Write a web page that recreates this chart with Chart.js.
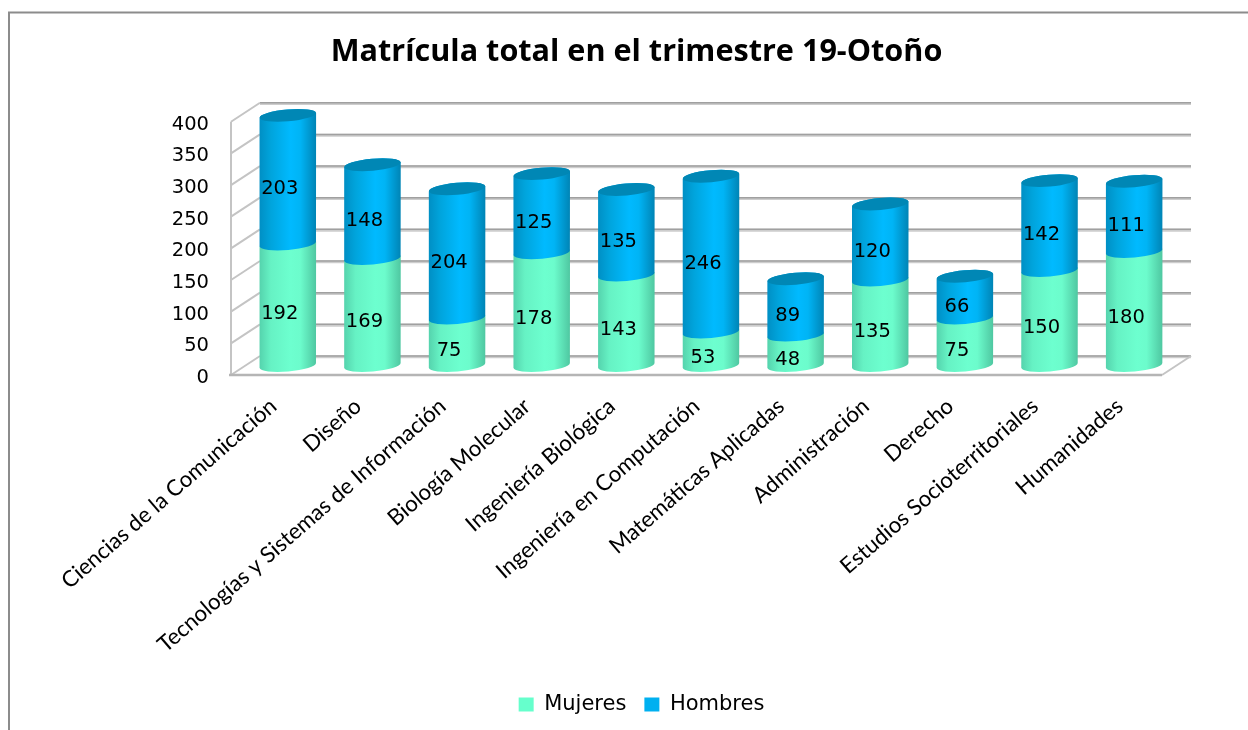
<!DOCTYPE html>
<html><head><meta charset="utf-8">
<script src="https://cdn.jsdelivr.net/npm/chart.js@4"></script>
<style>html,body{margin:0;padding:0;background:#fff;overflow:hidden}canvas{display:block}</style>
</head><body>
<canvas id="c" width="1248" height="730"></canvas>
<script>
const categories = ["Ciencias de la Comunicación","Diseño","Tecnologías y Sistemas de Información","Biología Molecular","Ingeniería Biológica","Ingeniería en Computación","Matemáticas Aplicadas","Administración","Derecho","Estudios Socioterritoriales","Humanidades"];
const mujeres = [192,169,75,178,143,53,48,135,75,150,180];
const hombres = [203,148,204,125,135,246,89,120,66,142,111];
const titleText = "Matrícula total en el trimestre 19-Otoño";
const yTicks = [0,50,100,150,200,250,300,350,400];

const DX = 29, DY = -19, GRID = '#a0a0a0';
const shades = [
  {top:'#5fe6bd', stops:['#55d3ad','#66f2c4','#6dffcf','#6cfccc','#4fc7a1']},
  {top:'#0087b5', stops:['#008fc4','#00a4dc','#00baff','#00b4f5','#0084b5']}
];
function grad(ctx,l,r,stops){
  const g=ctx.createLinearGradient(l,0,r,0);
  [0,.2,.55,.72,1].forEach((p,i)=>g.addColorStop(p,stops[i]));
  return g;
}
const TILT=-5*Math.PI/180, RY=6;
const cylinders = {
  id:'cylinders',
  afterLayout(chart){
    chart.legend.left+=5; chart.legend.right+=5;
  },
  beforeDraw(chart){
    const c=chart.ctx; c.save();
    c.strokeStyle='#8c8c8c'; c.lineWidth=2;
    c.beginPath(); c.moveTo(9,730); c.lineTo(9,12.5); c.lineTo(1248,12.5); c.stroke();
    c.restore();
  },
  beforeDatasetsDraw(chart){
    const c=chart.ctx, x=chart.scales.x, y=chart.scales.y, L=x.left, R=x.right;
    c.save();
    c.lineCap='butt';
    yTicks.forEach(v=>{
      const p=y.getPixelForValue(v);
      c.strokeStyle='#cdcdcd'; c.lineWidth=3;
      c.beginPath(); c.moveTo(L+DX,p+DY+0.8); c.lineTo(R+DX,p+DY+0.8); c.stroke();
      c.strokeStyle=GRID; c.lineWidth=1.5;
      c.beginPath(); c.moveTo(L+DX,p+DY); c.lineTo(R+DX,p+DY); c.stroke();
      c.strokeStyle='#c4c4c4'; c.lineWidth=2;
      c.beginPath(); c.moveTo(L,p); c.lineTo(L+DX,p+DY); c.stroke();
    });
    c.strokeStyle='#c4c4c4'; c.lineWidth=2;
    c.beginPath(); c.moveTo(L,y.getPixelForValue(400)); c.lineTo(L,y.getPixelForValue(0)); c.stroke();
    c.beginPath(); c.moveTo(R,y.getPixelForValue(0)); c.lineTo(R+DX,y.getPixelForValue(0)+DY); c.stroke();
    c.strokeStyle='#b5b5b5'; c.lineWidth=2.5;
    c.beginPath(); c.moveTo(L-2,y.getPixelForValue(0)); c.lineTo(R,y.getPixelForValue(0)); c.stroke();
    chart.data.datasets.forEach((ds,di)=>{
      chart.getDatasetMeta(di).data.forEach(el=>{
        const cx=el.x+DX/2, rx=el.width/2, topY=el.y+DY/2, botY=el.base+DY/2, sl=rx*Math.tan(TILT);
        const l=cx-rx, r=cx+rx;
        c.beginPath();
        c.moveTo(l,topY-sl);
        c.lineTo(l,botY-sl);
        c.ellipse(cx,botY,rx,RY,TILT,Math.PI,0,true);
        c.lineTo(r,topY+sl);
        c.ellipse(cx,topY,rx,RY,TILT,0,Math.PI,true);
        c.closePath();
        c.fillStyle=grad(c,l,r,shades[di].stops);
        c.fill();
        if(di===chart.data.datasets.length-1){
          c.beginPath(); c.ellipse(cx,topY,rx,RY,TILT,0,Math.PI*2);
          c.fillStyle=shades[di].top; c.fill();
        }
      });
    });
    c.font='19.5px "DejaVu Sans"'; c.fillStyle='#000'; c.textAlign='center'; c.textBaseline='middle';
    chart.data.datasets.forEach((ds,di)=>{
      chart.getDatasetMeta(di).data.forEach((el,i)=>{
        c.fillText(ds.data[i], el.x+DX/2-8, (el.y+el.base)/2);
      });
    });
    c.restore();
    return false;
  }
};
new Chart(document.getElementById('c'),{
  type:'bar',
  plugins:[cylinders],
  data:{labels:categories,datasets:[
    {label:'Mujeres',data:mujeres,backgroundColor:'#66ffcc',borderWidth:0},
    {label:'Hombres',data:hombres,backgroundColor:'#00b0f0',borderWidth:0}
  ]},
  options:{
    responsive:false,animation:false,
    layout:{padding:{left:25,right:0,top:0,bottom:5}},
    barPercentage:1,categoryPercentage:0.668,
    scales:{
      x:{stacked:true,grid:{display:false},border:{display:false},
        ticks:{autoSkip:false,minRotation:41,maxRotation:41,padding:10,font:{family:'Lato',size:22.2},color:'#000'},
        afterFit(s){s.height=301;}},
      y:{stacked:true,min:0,max:400,grid:{display:false},border:{display:false},
        afterBuildTicks(s){s.ticks=yTicks.map(v=>({value:v}));},
        ticks:{font:{family:'"DejaVu Sans"',size:19.5},color:'#000',padding:14,labelOffset:3},
        afterFit(s){s.width=206;}},
      r:{position:'right',display:true,grid:{display:false},border:{display:false},ticks:{display:false},afterFit(s){s.width=86;}}
    },
    plugins:{
      title:{display:true,text:titleText,color:'#000',font:{family:'"Open Sans"',size:30.6,weight:'bold'},padding:{top:34,bottom:51}},
      legend:{position:'bottom',labels:{boxWidth:15,boxHeight:14,color:'#000',font:{family:'"DejaVu Sans"',size:21},padding:18}},
      tooltip:{enabled:false}
    }
  }
});
</script>
</body></html>
